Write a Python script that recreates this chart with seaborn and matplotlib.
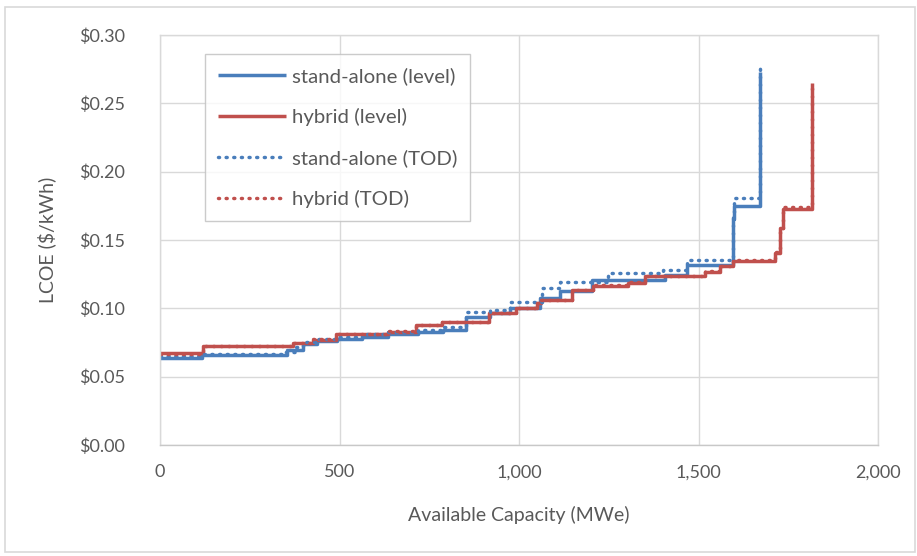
import matplotlib
matplotlib.use("Agg")
import matplotlib.pyplot as plt
import seaborn as sns
import pandas as pd
from matplotlib.patches import Rectangle

# ---- data ----
sa_level_x = [0, 116, 353, 398, 436, 492, 562, 635, 719, 789, 852, 919, 975, 1058, 1114, 1202,
              1407, 1467, 1595, 1598, 1600, 1670]
sa_level_y = [0.0640, 0.0655, 0.0695, 0.0740, 0.0760, 0.0775, 0.0790, 0.0815, 0.0830, 0.0845,
              0.0940, 0.0963, 0.1000, 0.1073, 0.1130, 0.1207, 0.1244, 0.1317, 0.1650, 0.1700,
              0.1750, 0.2730]

hy_level_x = [0, 121, 371, 427, 490, 635, 713, 785, 917, 993, 1049, 1060, 1147, 1207, 1304,
              1351, 1518, 1560, 1597, 1713, 1727, 1735, 1815]
hy_level_y = [0.0671, 0.0727, 0.0745, 0.0770, 0.0810, 0.0830, 0.0878, 0.0900, 0.0963, 0.1000,
              0.1040, 0.1060, 0.1134, 0.1165, 0.1188, 0.1237, 0.1268, 0.1310, 0.1345, 0.1407,
              0.1585, 0.1724, 0.2650]

sa_tod_x = [0, 116, 343, 380, 398, 436, 492, 562, 635, 719, 789, 852, 919, 975, 1063, 1114,
            1248, 1401, 1467, 1595, 1600, 1670]
sa_tod_y = [0.0650, 0.0665, 0.0680, 0.0720, 0.0755, 0.0778, 0.0790, 0.0815, 0.0830, 0.0845,
            0.0860, 0.0976, 0.0990, 0.1050, 0.1150, 0.1190, 0.1256, 0.1284, 0.1354, 0.1700,
            0.1805, 0.2780]

hy_tod_x = [0, 121, 371, 427, 490, 635, 713, 785, 917, 993, 1049, 1060, 1147, 1207, 1304,
            1351, 1518, 1560, 1597, 1713, 1727, 1735, 1815]
hy_tod_y = [0.0668, 0.0725, 0.0748, 0.0772, 0.0815, 0.0832, 0.0880, 0.0902, 0.0965, 0.1002,
            0.1042, 0.1062, 0.1136, 0.1168, 0.1190, 0.1240, 0.1270, 0.1313, 0.1352, 0.1410,
            0.1590, 0.1744, 0.2650]

series_names = ["stand-alone (level)", "hybrid (level)", "stand-alone (TOD)", "hybrid (TOD)"]
x_ticks = [0, 500, 1000, 1500, 2000]
y_ticks = [0.00, 0.05, 0.10, 0.15, 0.20, 0.25, 0.30]

BLUE = "#4a7ebb"
RED = "#c0504d"
TXT = "#595959"
GRID = "#d9d9d9"

sns.set_theme(style="white")
plt.rcParams["font.family"] = ["Lato", "DejaVu Sans"]

fig = plt.figure(figsize=(9.17, 5.56), dpi=100)
ax = fig.add_axes([160 / 917, 1 - 445 / 556, 718 / 917, 410 / 556])

specs = [
    (sa_level_x, sa_level_y, BLUE, "-", series_names[0]),
    (hy_level_x, hy_level_y, RED, "-", series_names[1]),
    (sa_tod_x, sa_tod_y, BLUE, (0, (0.3, 1.9)), series_names[2]),
    (hy_tod_x, hy_tod_y, RED, (0, (0.3, 1.9)), series_names[3]),
]
for xs, ys, col, ls, name in specs:
    df = pd.DataFrame({"cap": xs, "lcoe": ys})
    sns.lineplot(data=df, x="cap", y="lcoe", ax=ax, color=col, linestyle=ls,
                 linewidth=2.5, drawstyle="steps-post", estimator=None, sort=False,
                 label=name, dash_capstyle="round", solid_capstyle="butt")

ax.set_xlim(0, 2000)
ax.set_ylim(0, 0.30)
ax.set_xticks(x_ticks)
ax.set_yticks(y_ticks)
ax.set_xticklabels([f"{v:,}" for v in x_ticks], fontsize=13, color=TXT)
ax.set_yticklabels([f"${v:.2f}" for v in y_ticks], fontsize=13, color=TXT)
ax.tick_params(axis="x", length=0, pad=14)
ax.tick_params(axis="y", length=0, pad=25)
ax.grid(True, color=GRID, linewidth=1)
ax.set_axisbelow(True)
for s in ax.spines.values():
    s.set_color(GRID)
    s.set_linewidth(1)
ax.spines["bottom"].set_color("#c8c8c8")

ax.set_xlabel("Available Capacity (MWe)", fontsize=14, color=TXT, labelpad=18)
ax.set_ylabel("LCOE ($/kWh)", fontsize=14, color=TXT, labelpad=17)

leg = ax.legend(loc="upper left", bbox_to_anchor=((205 - 160) / 718, (445 - 54) / 410),
                fontsize=14.7, frameon=True, fancybox=False, handlelength=3.3,
                labelspacing=1.12, borderpad=0.65, handletextpad=0.3,
                borderaxespad=0)
leg.get_frame().set_edgecolor("#bfbfbf")
leg.get_frame().set_linewidth(1)
for t in leg.get_texts():
    t.set_color(TXT)

fig.patches.append(Rectangle((5 / 917, 1 - 552 / 556), 910 / 917, 545 / 556,
                             transform=fig.transFigure, fill=False,
                             edgecolor="#d9d9d9", linewidth=1.2))

fig.savefig("out.png", dpi=100)
